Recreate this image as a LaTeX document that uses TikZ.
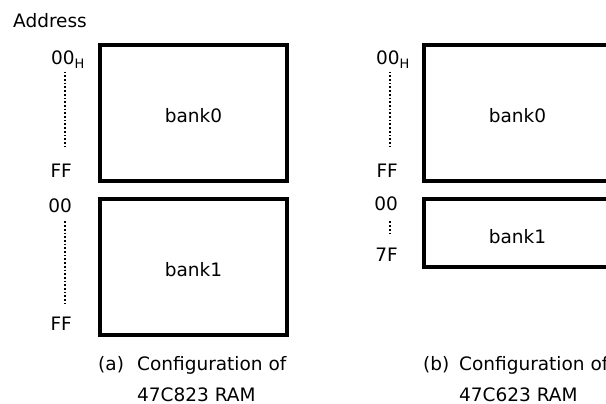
\documentclass[tikz,border=0pt]{standalone}
\usepackage{fontspec}
\setmainfont{DejaVu Sans}
\begin{document}
\begin{tikzpicture}[x=1pt,y=-1pt]
            \tikzset{every node/.append style={inner sep=0pt,font=\fontsize{18.5}{22}\selectfont},
              bank/.style={draw,line width=4pt,minimum width=187.5pt,text height=20pt,text depth=0pt},
              addr/.style={anchor=base east},
              txt/.style={anchor=base west},
              addrdots/.style={line width=1.7pt,dash pattern=on 1.7pt off 2pt}}
            \clip (0,0) rectangle (606,404);
            \node [txt] (address) at (13,28) {Address};
            \coordinate (ldots) at (65,0);
            \coordinate (rdots) at (390,0);
            \node [bank,minimum height=136pt] (a0) at (193.5,113) {bank0};
            \node [bank,minimum height=136.5pt] (a1) at (193.5,266.75) {bank1};
            \node [txt] (ah0) at (51,65) {00\textsubscript{H}};
            \node [addr] (aff0) at (72,177) {FF};
            \node [addr] (a000) at (72,212) {00};
            \node [addr] (aff1) at (72,330) {FF};
            \draw [addrdots,shorten <=3pt,shorten >=14pt] (ah0.south -| ldots) -- (aff0.north -| ldots);
            \draw [addrdots,shorten <=9pt,shorten >=12pt] (a000.south -| ldots) -- (aff1.north -| ldots);
            \node [bank,minimum height=136pt] (b0) at (517.5,113) {bank0};
            \node [bank,minimum height=68pt] (b1) at (517.5,233) {bank1};
            \node [txt] (bh0) at (376,65) {00\textsubscript{H}};
            \node [addr] (bff0) at (398,177) {FF};
            \node [addr] (b000) at (398,211) {00};
            \node [addr] (b7f1) at (398,261) {7F};
            \draw [addrdots,shorten <=3pt,shorten >=14pt] (bh0.south -| rdots) -- (bff0.north -| rdots);
            \draw [addrdots,shorten <=10pt,shorten >=12pt] (b000.south -| rdots) -- (b7f1.north -| rdots);
            \node [txt] (capa) at (98,370) {(a)};
            \node [txt] (capa1) at (137,370) {Configuration of};
            \node [txt] (capa2) at (137,401) {47C823 RAM};
            \node [txt] (capb) at (423,370) {(b)};
            \node [txt] (capb1) at (459,370) {Configuration of};
            \node [txt] (capb2) at (459,401) {47C623 RAM};
        \end{tikzpicture}
\end{document}
